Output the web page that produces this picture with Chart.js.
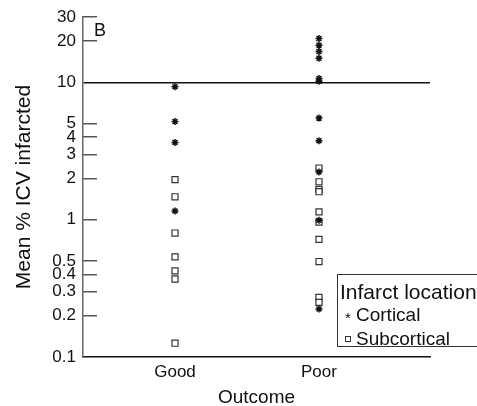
<!DOCTYPE html>
<html>
<head>
<meta charset="utf-8">
<script src="https://cdn.jsdelivr.net/npm/chart.js@4.4.1/dist/chart.umd.min.js"></script>
<style>
  html, body { margin: 0; padding: 0; background: #fff; overflow: hidden; }
  #wrap { position: relative; width: 477px; height: 406px; overflow: hidden; }
  #legend {
    position: absolute; left: 337px; top: 274px; width: 170px; height: 73px;
    box-sizing: border-box; border: 1px solid #333; background: #fff;
    font-family: "Liberation Sans", Arial, sans-serif; color: #111;
    padding: 6px 0 0 2px; line-height: 22.8px; white-space: nowrap;
  }
  #legend .t { font-size: 21px; }
  #legend .i { font-size: 19px; }
  #legend .s { display: inline-block; width: 16px; text-align: center; }
  #legend .star { font-size: 15px; position: relative; top: 2px; }
  #legend .sq { display: inline-block; width: 4px; height: 4px; border: 1px solid #333; vertical-align: 3px; }
</style>
</head>
<body>
<div id="wrap">
  <canvas id="c" width="477" height="406"></canvas>
  <div id="legend">
    <div class="t">Infarct location</div>
    <div class="i"><span class="s"><span class="star">*</span></span>Cortical</div>
    <div class="i"><span class="s"><span class="sq"></span></span>Subcortical</div>
  </div>
</div>
<script>
// ---- data ----
const categories = ['Good', 'Poor'];
const corticalGood = [9.3, 5.2, 3.66, 1.16];
const corticalPoor = [20.9, 18.7, 16.8, 15.0, 10.7, 10.2, 5.5, 3.77, 2.23, 0.99, 0.224];
const subcorticalGood = [1.96, 1.47, 0.80, 0.536, 0.424, 0.37, 0.126];
const subcorticalPoor = [2.38, 1.89, 1.66, 1.60, 1.14, 0.96, 0.72, 0.496, 0.272, 0.25];
const yTicks = [0.1, 0.2, 0.3, 0.4, 0.5, 1, 2, 3, 4, 5, 10, 20, 30];
const yTickLabels = ['0.1', '0.2', '0.3', '0.4', '0.5', '1', '2', '3', '4', '5', '10', '20', '30'];
const referenceValue = 10;
const panelLabel = 'B';
const yTitle = 'Mean % ICV infarcted';
const xTitle = 'Outcome';

const FONT = '"Liberation Sans", Arial, sans-serif';

function toPoints(goodVals, poorVals) {
  const pts = [];
  goodVals.forEach(v => pts.push({ x: 0, y: v }));
  poorVals.forEach(v => pts.push({ x: 1, y: v }));
  return pts;
}

const panelLabelPlugin = {
  id: 'panelLabel',
  afterDraw(chart) {
    const ctx = chart.ctx;
    const area = chart.chartArea;
    ctx.save();
    ctx.fillStyle = '#111';
    ctx.font = '18px ' + FONT;
    ctx.textBaseline = 'middle';
    ctx.textAlign = 'left';
    ctx.fillText(panelLabel, area.left + 11, area.top + 14);
    ctx.restore();
  }
};

new Chart(document.getElementById('c'), {
  type: 'scatter',
  data: {
    datasets: [
      {
        label: 'Cortical',
        data: toPoints(corticalGood, corticalPoor),
        pointStyle: 'star',
        radius: 3.5,
        borderColor: '#111',
        backgroundColor: '#111',
        borderWidth: 1.5
      },
      {
        label: 'Subcortical',
        data: toPoints(subcorticalGood, subcorticalPoor),
        pointStyle: 'rect',
        radius: 4.3,
        borderColor: '#333',
        backgroundColor: '#fff',
        borderWidth: 1.2
      }
    ]
  },
  options: {
    responsive: false,
    animation: false,
    events: [],
    layout: { padding: { left: 0, right: 47, top: 17, bottom: 0 } },
    plugins: { legend: { display: false }, tooltip: { enabled: false } },
    scales: {
      x: {
        type: 'linear',
        min: -0.639,
        max: 1.771,
        afterBuildTicks: s => { s.ticks = categories.map((c, i) => ({ value: i })); },
        afterFit: s => { s.height = 49; s.paddingLeft = 0; s.paddingRight = 0; },
        grid: { display: false, drawTicks: false },
        border: { display: true, color: '#111', width: 1.5 },
        ticks: {
          padding: 5,
          color: '#111',
          font: { family: FONT, size: 17 },
          callback: v => categories[v]
        },
        title: {
          display: true,
          text: xTitle,
          color: '#111',
          font: { family: FONT, size: 19, lineHeight: 1 },
          padding: { top: 0, bottom: -1 }
        }
      },
      y: {
        type: 'logarithmic',
        min: 0.1,
        max: 30,
        afterBuildTicks: s => { s.ticks = yTicks.map(v => ({ value: v })); },
        afterFit: s => { s.width = 83; s.paddingTop = 10; s.paddingBottom = 10; },
        grid: {
          display: true,
          drawTicks: true,
          tickLength: -14,
          drawOnChartArea: true,
          lineWidth: 1.5,
          tickWidth: 1.5,
          color: c => (c.tick && c.tick.value === referenceValue ? '#111' : 'rgba(0,0,0,0)'),
          tickColor: c => (c.tick && (c.tick.value === yTicks[0] || c.tick.value === referenceValue) ? 'rgba(0,0,0,0)' : '#555')
        },
        border: { display: true, color: '#666', width: 1.5 },
        ticks: {
          padding: 21,
          color: '#111',
          font: { family: FONT, size: 17 },
          autoSkip: false,
          callback: (v, i) => yTickLabels[i]
        },
        title: {
          display: true,
          text: yTitle,
          color: '#111',
          font: { family: FONT, size: 21 },
          padding: { top: 12, bottom: 0 }
        }
      }
    }
  },
  plugins: [panelLabelPlugin]
});
</script>
</body>
</html>
